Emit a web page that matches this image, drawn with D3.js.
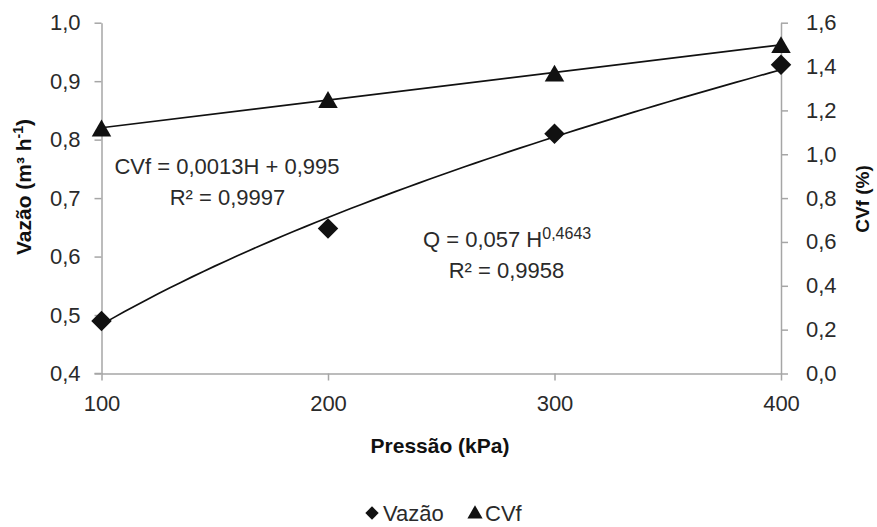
<!DOCTYPE html>
<html><head><meta charset="utf-8">
<script src="https://cdn.jsdelivr.net/npm/d3@7"></script>
<style>
html,body{margin:0;padding:0;background:#fff;}
svg{display:block;}
.tk{font-family:"Liberation Sans",Arial,sans-serif;font-size:22px;fill:#2a2a2a;}
.ttl{font-family:"Liberation Sans",Arial,sans-serif;font-weight:bold;fill:#111;}
</style></head>
<body>
<script>
const pressures = [100, 200, 300, 400];
const vazao = [0.49, 0.648, 0.81, 0.928];
const cvf = [1.12, 1.25, 1.37, 1.50];
const xTicks = [100, 200, 300, 400];
const yLeftTicks = [0.4, 0.5, 0.6, 0.7, 0.8, 0.9, 1.0];
const yRightTicks = [0.0, 0.2, 0.4, 0.6, 0.8, 1.0, 1.2, 1.4, 1.6];

const W = 877, H = 527;
const X0 = 101.5, X1 = 781, Y0 = 373.5, Y1 = 22.7;
const svg = d3.select("body").append("svg").attr("width", W).attr("height", H);

const x = d3.scaleLinear().domain([100, 400]).range([X0, X1]);
const yL = d3.scaleLinear().domain([0.4, 1.0]).range([Y0, Y1]);
const yR = d3.scaleLinear().domain([0, 1.6]).range([Y0, Y1]);
const fmt1 = d => d3.format(".1f")(d).replace(".", ",");
const axisColor = "#a6a6a6";

function styleAxis(g){
  g.select(".domain").attr("stroke", axisColor).attr("stroke-width", 1.5);
  g.selectAll(".tick line").attr("stroke", axisColor).attr("stroke-width", 1.5);
  g.selectAll(".tick text").attr("class", "tk");
}

const gx = svg.append("g").attr("transform", `translate(0,${Y0})`)
  .call(d3.axisBottom(x).tickValues(xTicks).tickSize(7).tickSizeOuter(0).tickPadding(15).tickFormat(d3.format("d")));
styleAxis(gx);
gx.append("line").attr("x1", X0 - 7).attr("x2", X0).attr("y1", 0).attr("y2", 0)
  .attr("stroke", axisColor).attr("stroke-width", 1.5);

const gl = svg.append("g").attr("transform", `translate(${X0},0)`)
  .call(d3.axisLeft(yL).tickValues(yLeftTicks).tickSize(7).tickSizeOuter(0).tickPadding(14).tickFormat(fmt1));
styleAxis(gl);

const gr = svg.append("g").attr("transform", `translate(${X1},0)`)
  .call(d3.axisRight(yR).tickValues(yRightTicks).tickSize(7).tickSizeOuter(0).tickPadding(18).tickFormat(fmt1));
styleAxis(gr);

// Trendlines from least-squares fits of the data
const lx = pressures.map(Math.log), ly = vazao.map(Math.log);
const mlx = d3.mean(lx), mly = d3.mean(ly);
const bP = d3.sum(lx.map((v,i)=>(v-mlx)*(ly[i]-mly))) / d3.sum(lx.map(v=>(v-mlx)**2));
const aP = Math.exp(mly - bP*mlx);
const mx = d3.mean(pressures), my = d3.mean(cvf);
const bL = d3.sum(pressures.map((v,i)=>(v-mx)*(cvf[i]-my))) / d3.sum(pressures.map(v=>(v-mx)**2));
const aL = my - bL*mx;

const hs = d3.range(100, 400.001, 5);
svg.append("path")
  .attr("d", d3.line().x(h=>x(h)).y(h=>yL(aP*Math.pow(h,bP)))(hs))
  .attr("fill","none").attr("stroke","#111").attr("stroke-width",1.7);
svg.append("path")
  .attr("d", d3.line().x(h=>x(h)).y(h=>yR(aL + bL*h))([100, 400]))
  .attr("fill","none").attr("stroke","#111").attr("stroke-width",1.7);

// markers
svg.selectAll(".dm").data(pressures).join("path")
  .attr("d", d3.symbol().type(d3.symbolSquare).size(210))
  .attr("transform", (d,i)=>`translate(${x(d)},${yL(vazao[i])}) rotate(45)`)
  .attr("fill","#111");
const triSize = 165, triR = Math.sqrt(triSize/(3*Math.sqrt(3)));
svg.selectAll(".tr").data(pressures).join("path")
  .attr("d", d3.symbol().type(d3.symbolTriangle).size(triSize))
  .attr("transform", (d,i)=>`translate(${x(d)},${yR(cvf[i]) + triR*0.5})`)
  .attr("fill","#111");

// equations
svg.append("text").attr("class","tk").attr("x",227).attr("y",174).attr("text-anchor","middle").text("CVf = 0,0013H + 0,995");
svg.append("text").attr("class","tk").attr("x",227.5).attr("y",205).attr("text-anchor","middle").text("R² = 0,9997");
const q = svg.append("text").attr("class","tk").attr("x",423).attr("y",247);
q.append("tspan").text("Q = 0,057 H");
q.append("tspan").attr("dy",-8).attr("font-size","16px").text("0,4643");
svg.append("text").attr("class","tk").attr("x",506.5).attr("y",278).attr("text-anchor","middle").text("R² = 0,9958");

// axis titles
svg.append("text").attr("class","ttl").attr("font-size","21px").attr("x", 440).attr("y", 453).attr("text-anchor","middle").text("Pressão (kPa)");
const lt = svg.append("text").attr("class","ttl").attr("font-size","21px").attr("text-anchor","middle")
  .attr("transform", `translate(31,187) rotate(-90)`);
lt.append("tspan").text("Vazão (m³ h");
lt.append("tspan").attr("dy",-8).attr("font-size","14px").text("-1");
lt.append("tspan").attr("dy",8).text(")");
svg.append("text").attr("class","ttl").attr("font-size","19px").attr("text-anchor","middle")
  .attr("transform", `translate(869,199) rotate(-90)`).text("CVf  (%)");

// legend
const lg = svg.append("g");
lg.append("path").attr("d", d3.symbol().type(d3.symbolSquare).size(90)).attr("transform","translate(372,513) rotate(45)").attr("fill","#111");
lg.append("text").attr("class","tk").attr("x",383).attr("y",521).text("Vazão");
lg.append("path").attr("d", d3.symbol().type(d3.symbolTriangle).size(100)).attr("transform","translate(475,514)").attr("fill","#111");
lg.append("text").attr("class","tk").attr("x",485).attr("y",521).text("CVf");
</script>
</body></html>
